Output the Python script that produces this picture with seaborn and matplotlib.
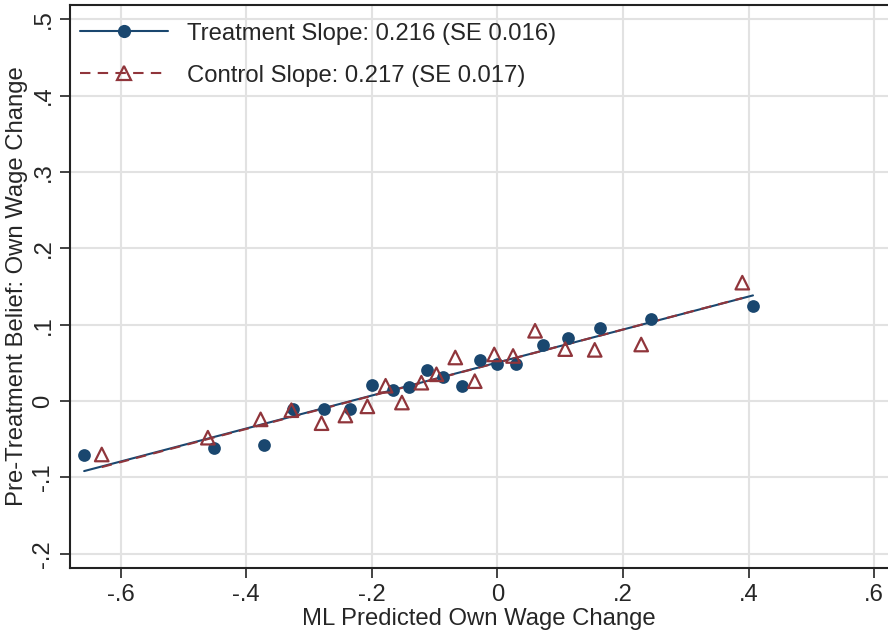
import numpy as np
import pandas as pd
import matplotlib
matplotlib.use('Agg')
import matplotlib.pyplot as plt
import seaborn as sns
from matplotlib.lines import Line2D
from matplotlib.ticker import FuncFormatter

# Binned means (20 bins per group)
treat_x = [-0.658, -0.451, -0.372, -0.325, -0.276, -0.234, -0.199, -0.167, -0.140, -0.112,
           -0.086, -0.057, -0.028, -0.001, 0.030, 0.073, 0.113, 0.164, 0.244, 0.407]
treat_y = [-0.071, -0.062, -0.058, -0.010, -0.010, -0.011, 0.021, 0.014, 0.019, 0.041,
           0.031, 0.020, 0.054, 0.048, 0.048, 0.074, 0.083, 0.095, 0.107, 0.125]
ctrl_x = [-0.630, -0.461, -0.377, -0.328, -0.280, -0.242, -0.207, -0.178, -0.152, -0.121,
          -0.097, -0.067, -0.036, -0.005, 0.025, 0.060, 0.108, 0.155, 0.229, 0.390]
ctrl_y = [-0.070, -0.048, -0.024, -0.012, -0.029, -0.019, -0.007, 0.020, -0.002, 0.024,
          0.035, 0.057, 0.026, 0.061, 0.059, 0.092, 0.068, 0.067, 0.074, 0.155]

# Fitted lines (slope from micro data, intercept)
treat_slope, treat_int = 0.216, 0.0504
ctrl_slope, ctrl_int = 0.217, 0.0502

labels = ['Treatment Slope: 0.216 (SE 0.016)', 'Control Slope: 0.217 (SE 0.017)']
x_ticks = [-0.6, -0.4, -0.2, 0, 0.2, 0.4, 0.6]
y_ticks = [-0.2, -0.1, 0, 0.1, 0.2, 0.3, 0.4, 0.5]

navy = '#1a476f'
maroon = '#90353b'
fs = 17.2

sns.set_style('white')
plt.rcParams['font.family'] = ['Liberation Sans', 'DejaVu Sans']

treat = pd.DataFrame({'x': treat_x, 'y': treat_y})
ctrl = pd.DataFrame({'x': ctrl_x, 'y': ctrl_y})
treat_fit = pd.DataFrame({'x': [min(treat_x), max(treat_x)]})
treat_fit['y'] = treat_int + treat_slope * treat_fit['x']
ctrl_fit = pd.DataFrame({'x': [min(ctrl_x), max(ctrl_x)]})
ctrl_fit['y'] = ctrl_int + ctrl_slope * ctrl_fit['x']

fig = plt.figure(figsize=(8.88, 6.31), dpi=100)
ax = fig.add_axes([0.0785, 0.0994, 0.9215, 0.8932])

# fit lines
sns.lineplot(data=treat_fit, x='x', y='y', color=navy, linewidth=1.5, ax=ax, zorder=3)
sns.lineplot(data=ctrl_fit, x='x', y='y', color=maroon, linewidth=1.5, ax=ax, zorder=4)
ax.lines[-1].set_dashes([5, 3.5])

# binned points
sns.scatterplot(data=treat, x='x', y='y', color=navy, marker='o', s=84, linewidth=0,
                ax=ax, zorder=5)
sns.scatterplot(data=ctrl, x='x', y='y', marker='^', s=95, ax=ax, zorder=6)
pts = ax.collections[-1]
pts.set_facecolor('none')
pts.set_edgecolor(maroon)
pts.set_linewidth(1.6)

ax.set_xlim(-0.681, 0.622)
ax.set_ylim(-0.219, 0.519)
ax.set_xticks(x_ticks)
ax.set_yticks(y_ticks)

def stata_fmt(v, pos):
    s = f'{v:.1f}'
    if s in ('0.0', '-0.0'):
        return '0'
    return s.replace('0.', '.')

ax.xaxis.set_major_formatter(FuncFormatter(stata_fmt))
ax.yaxis.set_major_formatter(FuncFormatter(stata_fmt))
ax.grid(True, color='#e2e2e2', linewidth=1.5)
ax.set_axisbelow(True)
ax.tick_params(axis='both', which='major', direction='out', length=7, width=1.2,
               color='#222222', labelsize=fs, pad=4, left=True, bottom=True)
for lab in ax.get_yticklabels():
    lab.set_rotation(90)
    lab.set_va('center')
for side in ['left', 'bottom', 'top']:
    ax.spines[side].set_color('#222222')
    ax.spines[side].set_linewidth(1.5)
ax.spines['right'].set_visible(False)

ax.set_xlabel('ML Predicted Own Wage Change', fontsize=fs, labelpad=2)
ax.set_ylabel('Pre-Treatment Belief: Own Wage Change', fontsize=fs, labelpad=3)

handles = [
    Line2D([], [], color=navy, linewidth=1.5, marker='o', markersize=9.5, markeredgewidth=0),
    Line2D([], [], color=maroon, linewidth=1.5, linestyle=(0, (5, 3.5)), marker='^',
           markersize=9.5, markerfacecolor='none', markeredgecolor=maroon, markeredgewidth=1.6),
]
ax.legend(handles, labels, loc='upper left', frameon=False, fontsize=fs,
          handlelength=3.7, handletextpad=0.8, labelspacing=0.84,
          bbox_to_anchor=(-0.008, 0.998), borderaxespad=0.3)

fig.savefig('out.png', dpi=100)
